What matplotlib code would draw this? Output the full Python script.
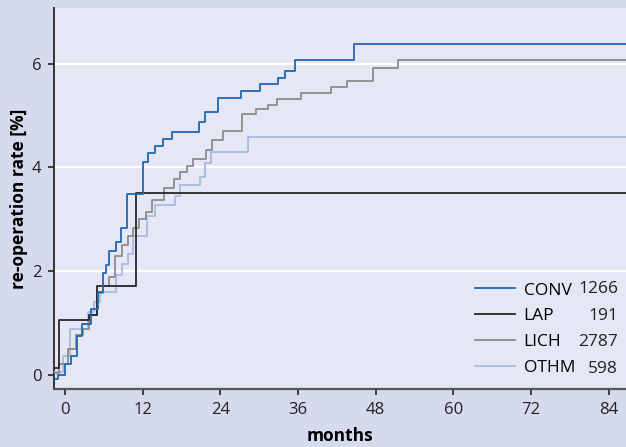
import numpy as np
import matplotlib
matplotlib.use("Agg")
import matplotlib.pyplot as plt

plt.rcParams['font.family'] = ['Open Sans', 'DejaVu Sans']

# step curves: month of each step and rate [%] after it
conv_t = [-1.55, -1.03, 0.0, 0.88, 1.9, 2.58, 3.97, 5.05, 5.92, 6.29, 6.85, 7.83, 8.66, 9.53,
          12.1, 12.78, 13.96, 15.1, 16.6, 20.7, 21.6, 23.6, 27.2, 30.15, 32.9, 34.0, 35.6, 44.6]
conv_y = [-0.08, 0.0, 0.21, 0.37, 0.75, 0.98, 1.28, 1.59, 1.97, 2.11, 2.38, 2.57, 2.84, 3.48,
          4.11, 4.28, 4.41, 4.55, 4.69, 4.87, 5.06, 5.34, 5.48, 5.6, 5.73, 5.86, 6.07, 6.37]

lap_t = [-1.55, -0.98, 3.76, 5.0, 10.98]
lap_y = [0.14, 1.05, 1.16, 1.71, 3.51]

lich_t = [-1.55, -0.88, 0.52, 1.7, 2.83, 3.76, 4.9, 5.82, 6.85, 7.78, 8.86, 9.74, 10.56, 11.5,
          12.48, 13.45, 15.3, 16.9, 17.8, 18.8, 19.75, 21.8, 22.7, 24.4, 27.3, 29.5, 31.4, 32.7,
          36.4, 41.1, 43.6, 47.6, 51.5]
lich_y = [0.03, 0.21, 0.51, 0.77, 0.88, 1.16, 1.57, 1.71, 1.89, 2.29, 2.5, 2.68, 2.84, 3.01,
          3.14, 3.38, 3.61, 3.77, 3.92, 4.03, 4.17, 4.34, 4.53, 4.71, 5.02, 5.12, 5.2, 5.32,
          5.44, 5.55, 5.66, 5.92, 6.07]

othm_t = [-1.55, -0.26, 0.77, 3.6, 4.53, 5.41, 7.89, 8.76, 9.69, 10.56, 12.63, 13.9, 16.96,
          17.8, 20.8, 21.6, 22.6, 28.3]
othm_y = [0.05, 0.37, 0.88, 1.22, 1.41, 1.59, 1.93, 2.13, 2.33, 2.68, 3.06, 3.28, 3.45,
          3.66, 3.82, 4.09, 4.29, 4.58]

groups = ["CONV", "LAP", "LICH", "OTHM"]
counts = ["1266", "191", "2787", "598"]
colors = ["#1f66b0", "#262626", "#8c8c8c", "#abb9e2"]
xticks = [0, 12, 24, 36, 48, 60, 72, 84]
yticks = [0, 2, 4, 6]

xmin, xmax = -1.7, 86.7
ymin, ymax = -0.27, 7.07

fig = plt.figure(figsize=(6.26, 4.47), dpi=100, facecolor="#d5daee")
ax = fig.add_axes([54 / 626, 58 / 447, 1 - 54 / 626, (389 - 8) / 447])
ax.set_facecolor("#e5e7f5")

for yv in yticks[1:]:
    ax.axhline(yv, color="white", lw=1.6, zorder=1)

series = [(conv_t, conv_y), (lap_t, lap_y), (lich_t, lich_y), (othm_t, othm_y)]
handles = []
for (t, y), name, c, z in zip(series, groups, colors, [6, 5, 4, 3]):
    t = list(t) + [xmax + 1]
    y = list(y) + [y[-1]]
    h, = ax.step(t, y, where="post", color=c, lw=1.3, label=name, zorder=z)
    handles.append(h)

ax.set_xlim(xmin, xmax)
ax.set_ylim(ymin, ymax)
ax.set_xticks(xticks)
ax.set_yticks(yticks)
ax.tick_params(labelsize=12, colors="#222222", length=4, width=1.2, pad=5)
for s in ["top", "right"]:
    ax.spines[s].set_visible(False)
ax.spines["left"].set_color("#333333")
ax.spines["bottom"].set_color("#555555")
ax.spines["left"].set_linewidth(1.4)
ax.spines["bottom"].set_linewidth(1.6)

ax.set_xlabel("months", fontsize=12.5, fontweight="bold", labelpad=7)
ax.set_ylabel("re-operation rate [%]", fontsize=12.5, fontweight="bold", labelpad=3)

leg = ax.legend(handles=handles, loc="center left", bbox_to_anchor=(0.736, 0.1575),
                frameon=False, fontsize=12.5, handlelength=2.3, handletextpad=0.5,
                labelspacing=0.55, borderaxespad=0, borderpad=0)
row_y = [0.2625, 0.1924, 0.1225, 0.0525]
for n, yy in zip(counts, row_y):
    ax.text(0.986, yy, n, transform=ax.transAxes, ha="right", va="center",
            fontsize=12.5, color="#222222")

fig.savefig("out.png", dpi=100, facecolor=fig.get_facecolor())
